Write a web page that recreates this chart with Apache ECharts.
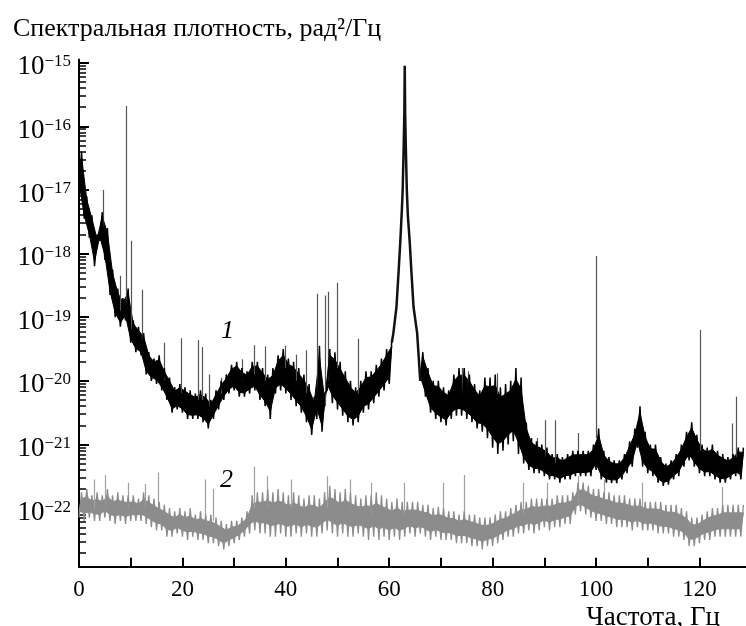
<!DOCTYPE html>
<html>
<head>
<meta charset="utf-8">
<script src="https://cdn.jsdelivr.net/npm/echarts@6/dist/echarts.min.js"></script>
<style>
html, body { margin: 0; padding: 0; background: #fff; }
#chart { width: 746px; height: 626px; }
</style>
</head>
<body>
<div id="chart"></div>
<script>
// сетка частот, Гц (шаг 1 Гц)
var freqs = [];
for (var f = 0; f <= 128; f++) freqs.push(f);

// кривая 1: верхняя и нижняя огибающие шумовой полосы, показатель степени (lg)
var hi1 = [
  -16.4,-17.1,-17.4,-17.7,-17.35,-17.6,-18.25,-18.55,-18.7,-18.55,
  -19.05,-19.15,-19.25,-19.55,-19.65,-19.6,-19.8,-19.95,-20.1,-20.05,
  -20.1,-20.15,-20.2,-20.15,-20.2,-20.3,-20.15,-20.0,-19.9,-19.75,
  -19.7,-19.8,-19.85,-19.7,-19.7,-19.8,-19.9,-19.8,-19.6,-19.5,
  -19.65,-19.7,-19.8,-19.9,-20.05,-20.25,-19.45,-20.2,-19.5,-19.55,
  -19.7,-19.85,-20.0,-20.1,-20.0,-19.85,-19.85,-19.75,-19.65,-19.5,
  -19.35,null,null,null,null,null,-19.55,-19.8,-20.0,-20.0,
  -20.1,-20.15,-19.9,-19.8,-19.8,-19.9,-20.05,-20.15,-19.95,-19.95,
  -19.9,-20.1,-20.05,-20.0,-19.8,-19.95,-20.65,-20.9,-20.95,-21.0,
  -21.05,-21.15,-21.15,-21.2,-21.15,-21.1,-21.1,-21.1,-21.1,-21.0,
  -20.75,-21.1,-21.2,-21.25,-21.25,-21.15,-20.95,-20.75,-20.4,-20.8,
  -21.0,-21.0,-21.2,-21.3,-21.25,-21.15,-21.0,-20.8,-20.65,-20.85,
  -21.0,-21.05,-21.0,-21.1,-21.15,-21.2,-21.15,-21.05,-21.05
];
var lo1 = [
  -16.95,-17.45,-17.75,-18.2,-17.8,-18.1,-18.65,-19.0,-19.15,-19.05,
  -19.4,-19.55,-19.6,-19.9,-20.0,-20.05,-20.15,-20.3,-20.5,-20.45,
  -20.5,-20.6,-20.6,-20.6,-20.65,-20.75,-20.6,-20.45,-20.3,-20.2,
  -20.15,-20.25,-20.25,-20.2,-20.15,-20.3,-20.4,-20.6,-20.2,-20.15,
  -20.2,-20.3,-20.4,-20.5,-20.65,-20.85,-20.6,-20.8,-20.15,-20.35,
  -20.45,-20.55,-20.65,-20.7,-20.65,-20.5,-20.45,-20.35,-20.25,-20.15,
  -20.05,null,null,null,null,null,-20.0,-20.25,-20.5,-20.6,
  -20.65,-20.7,-20.6,-20.55,-20.55,-20.6,-20.65,-20.75,-20.8,-20.9,
  -21.05,-21.15,-21.1,-21.0,-20.95,-21.15,-21.3,-21.4,-21.45,-21.45,
  -21.5,-21.55,-21.55,-21.6,-21.55,-21.55,-21.5,-21.5,-21.5,-21.5,
  -21.4,-21.55,-21.6,-21.61,-21.61,-21.55,-21.45,-21.35,-21.05,-21.35,
  -21.45,-21.5,-21.6,-21.65,-21.63,-21.55,-21.5,-21.35,-21.25,-21.35,
  -21.45,-21.5,-21.5,-21.55,-21.6,-21.6,-21.55,-21.5,-21.55
];

// резонанс около 63 Гц
var peakF = [60.5, 60.8, 61.4, 61.8, 62.15, 62.45, 62.6, 62.8, 62.92, 63.0, 63.08, 63.2, 63.4, 63.6, 63.95, 64.3, 64.7, 65.4, 66.0];
var peakE = [-19.4, -19.25, -18.84, -18.3, -17.8, -17.3, -17.0, -16.3, -15.8, -15.05, -15.8, -16.3, -17.0, -17.4, -17.8, -18.3, -18.84, -19.25, -20.0];

// узкие линии кривой 1: [частота, вершина, основание]
var spikes1 = [
  [4.7,-17.0,-17.6],[7.9,-18.35,-18.9],[9.1,-15.68,-18.9],[10.1,-17.8,-19.2],[12.3,-18.57,-19.4],
  [16.4,-19.4,-20.0],[19.8,-19.33,-20.2],[23.0,-19.36,-20.3],[23.9,-19.47,-20.3],[25.1,-19.9,-20.4],
  [27.5,-19.95,-20.2],[31.5,-19.66,-20.0],[33.9,-19.44,-19.9],[36.0,-19.46,-20.0],[39.9,-19.45,-19.8],
  [42.0,-19.59,-20.0],[43.9,-19.52,-20.2],[46.0,-18.63,-20.3],[47.6,-18.66,-20.4],[48.2,-18.6,-20.0],
  [49.9,-18.46,-19.8],[54.0,-19.34,-20.2],[74.1,-19.8,-20.2],[75.3,-19.85,-20.2],[80.9,-19.88,-20.2],
  [88.6,-20.9,-21.1],[90.1,-20.62,-21.2],[92.2,-20.62,-21.3],[96.6,-20.82,-21.2],[100.0,-18.04,-20.9],
  [120.2,-19.2,-21.1],[126.3,-20.67,-21.2],[127.1,-20.25,-21.2]
];

// кривая 2
var hi2 = [
  -21.75,-21.7,-21.8,-21.75,-21.8,-21.7,-21.8,-21.75,-21.8,-21.8,
  -21.8,-21.85,-21.75,-21.8,-21.85,-21.9,-21.95,-22.0,-22.05,-22.0,
  -22.05,-22.0,-22.1,-22.05,-22.1,-22.1,-22.15,-22.2,-22.25,-22.2,
  -22.2,-22.15,-22.05,-21.8,-21.75,-21.75,-21.7,-21.75,-21.7,-21.75,
  -21.8,-21.75,-21.8,-21.85,-21.8,-21.8,-21.85,-21.75,-21.65,-21.7,
  -21.75,-21.7,-21.75,-21.8,-21.85,-21.8,-21.8,-21.75,-21.8,-21.85,
  -21.9,-21.85,-21.9,-21.9,-21.9,-21.9,-21.95,-21.95,-22.0,-21.98,
  -22.0,-22.05,-22.05,-22.1,-22.05,-22.1,-22.1,-22.15,-22.15,-22.15,
  -22.1,-22.05,-22.05,-22.0,-21.95,-21.9,-21.9,-21.85,-21.85,-21.85,
  -21.85,-21.85,-21.8,-21.8,-21.8,-21.75,-21.6,-21.6,-21.65,-21.7,
  -21.7,-21.75,-21.75,-21.8,-21.8,-21.8,-21.85,-21.85,-21.85,-21.9,
  -21.9,-21.9,-21.9,-21.95,-21.95,-21.95,-22.0,-22.05,-22.15,-22.15,
  -22.1,-22.05,-22.0,-22.0,-21.95,-21.95,-21.95,-21.95,-21.95
];
var lo2 = [
  -22.15,-22.2,-22.15,-22.2,-22.2,-22.15,-22.2,-22.25,-22.2,-22.25,
  -22.2,-22.2,-22.2,-22.25,-22.3,-22.35,-22.35,-22.45,-22.45,-22.4,
  -22.45,-22.5,-22.45,-22.5,-22.5,-22.55,-22.55,-22.6,-22.65,-22.6,
  -22.55,-22.5,-22.45,-22.4,-22.35,-22.4,-22.4,-22.45,-22.45,-22.4,
  -22.45,-22.45,-22.4,-22.45,-22.4,-22.45,-22.45,-22.4,-22.35,-22.4,
  -22.45,-22.4,-22.45,-22.45,-22.4,-22.45,-22.5,-22.45,-22.5,-22.45,
  -22.5,-22.45,-22.5,-22.45,-22.4,-22.45,-22.4,-22.45,-22.5,-22.45,
  -22.5,-22.5,-22.5,-22.55,-22.55,-22.55,-22.6,-22.6,-22.65,-22.6,
  -22.6,-22.55,-22.5,-22.45,-22.45,-22.4,-22.4,-22.35,-22.4,-22.35,
  -22.3,-22.35,-22.3,-22.3,-22.25,-22.25,-22.1,-22.05,-22.1,-22.15,
  -22.2,-22.2,-22.25,-22.25,-22.3,-22.3,-22.3,-22.35,-22.3,-22.35,
  -22.35,-22.35,-22.4,-22.4,-22.4,-22.45,-22.45,-22.5,-22.6,-22.6,
  -22.55,-22.5,-22.5,-22.45,-22.45,-22.45,-22.45,-22.45,-22.45
];
var spikes2 = [
  [3.0,-21.55,-22.0],[5.1,-21.48,-22.0],[9.5,-21.6,-22.0],[12.9,-21.62,-22.0],[15.4,-21.44,-22.0],
  [24.4,-21.55,-22.2],[26.0,-21.7,-22.2],[33.9,-21.35,-22.0],[36.5,-21.5,-22.0],[41.0,-21.55,-22.0],
  [48.0,-21.5,-22.0],[52.5,-21.55,-22.0],[56.5,-21.6,-22.1],[63.0,-21.6,-22.1],[70.5,-21.6,-22.1],
  [74.6,-21.48,-22.1],[86.0,-21.6,-22.1],[90.5,-21.6,-22.1],[96.6,-21.5,-21.9],[101.5,-21.55,-21.9],
  [109.0,-21.6,-22.0],[124.5,-21.67,-22.1]
];

var xLabels = [0, 20, 40, 60, 80, 100, 120];
var xTicks = [10, 20, 30, 40, 50, 60, 70, 80, 90, 100, 110, 120];
var decades = [-22, -21, -20, -19, -18, -17, -16, -15];

var yMin = 1.2e-23, yMax = 1.12e-15;

function pw(e) { return e == null ? null : Math.pow(10, e); }

// шумовая полоса: зигзаг между нижней и верхней огибающей
function band(hi, lo) {
  var out = [];
  for (var i = 0; i < freqs.length; i++) {
    if (hi[i] == null) { out.push([freqs[i], null]); continue; }
    out.push([freqs[i], pw(lo[i])]);
    out.push([freqs[i] + 0.5, pw(hi[i])]);
  }
  return out;
}
// сплошная середина полосы (зубцы зигзага остаются по краям)
function bandFill(hi, lo, color, inset) {
  return {
    type: 'custom', coordinateSystem: 'cartesian2d', silent: true,
    data: [[0, yMin]],
    renderItem: function (params, api) {
      var parts = [], cur = [];
      for (var i = 0; i <= freqs.length; i++) {
        if (i === freqs.length || hi[i] == null) {
          if (cur.length) parts.push(cur);
          cur = [];
          continue;
        }
        cur.push(i);
      }
      var children = parts.map(function (idx) {
        var top = [], bottom = [];
        idx.forEach(function (j) {
          var d = hi[j] - lo[j];
          top.push(api.coord([freqs[j] + 0.5, pw(hi[j] - d * inset)]));
          bottom.push(api.coord([freqs[j], pw(lo[j] + d * inset)]));
        });
        return {
          type: 'polygon',
          shape: { points: bottom.concat(top.reverse()) },
          style: { fill: color, stroke: color, lineWidth: 1 }
        };
      });
      return { type: 'group', children: children };
    }
  };
}
function spikeLines(list) {
  return list.map(function (s) {
    return { coords: [[s[0], pw(s[2])], [s[0], pw(s[1])]] };
  });
}

var majorVals = decades.map(pw);
var minorVals = [];
for (var d = -24; d <= -15; d++) {
  for (var k = 2; k <= 9; k++) {
    var v = k * Math.pow(10, d);
    if (v > yMin && v < yMax) minorVals.push(v);
  }
}

var serif = '"Liberation Serif", "Times New Roman", serif';

var chart = echarts.init(document.getElementById('chart'));
var option = {
  animation: false,
  title: {
    text: 'Спектральная плотность, рад²/Гц',
    left: 8, top: 11,
    textStyle: { fontFamily: serif, fontSize: 26, fontWeight: 'normal', color: '#000' }
  },
  grid: { left: 79, right: 0, top: 59.5, bottom: 59.3, containLabel: false, outerBoundsMode: 'none' },
  xAxis: {
    type: 'value', min: 0, max: 129,
    name: 'Частота, Гц', nameLocation: 'end', nameGap: -26,
    nameTextStyle: { fontFamily: serif, fontSize: 27, color: '#000', align: 'right', verticalAlign: 'top', padding: [38, 0, 0, 0] },
    axisLine: { onZero: false, lineStyle: { color: '#000', width: 2 } },
    axisTick: { inside: true, length: 9, customValues: xTicks, lineStyle: { color: '#000', width: 2 } },
    axisLabel: { customValues: xLabels, fontFamily: serif, fontSize: 23, color: '#000', margin: 12 },
    splitLine: { show: false }
  },
  yAxis: [{
    type: 'log', logBase: 10, min: yMin, max: yMax, position: 'left',
    axisLine: { lineStyle: { color: '#000', width: 2 } },
    axisTick: { inside: true, length: 10, customValues: majorVals, lineStyle: { color: '#000', width: 2 } },
    axisLabel: {
      customValues: majorVals, margin: 8, padding: [9, 0, 0, 0],
      formatter: function (v) {
        var e = Math.round(Math.log10(v));
        return '{b|10}{s|−' + (-e) + '}';
      },
      rich: {
        b: { fontFamily: serif, fontSize: 27, lineHeight: 28, color: '#000' },
        s: { fontFamily: serif, fontSize: 17, lineHeight: 17, verticalAlign: 'top', color: '#000' }
      }
    },
    splitLine: { show: false }
  }, {
    type: 'log', logBase: 10, min: yMin, max: yMax, position: 'left',
    axisLine: { show: false },
    axisTick: { inside: true, length: 7, customValues: minorVals, lineStyle: { color: '#000', width: 1.5 } },
    axisLabel: { show: false },
    splitLine: { show: false }
  }],
  graphic: [
    { type: 'text', left: 221, top: 318, style: { text: '1', font: 'italic 26px ' + serif, fill: '#000' } },
    { type: 'text', left: 220, top: 467, style: { text: '2', font: 'italic 26px ' + serif, fill: '#000' } }
  ],
  series: [
    bandFill(hi2, lo2, '#8c8c8c', 0.25),
    {
      name: '2', type: 'line', showSymbol: false, connectNulls: false,
      data: band(hi2, lo2),
      lineStyle: { color: '#8c8c8c', width: 1.3 }
    },
    {
      type: 'lines', coordinateSystem: 'cartesian2d', silent: true,
      data: spikeLines(spikes2),
      lineStyle: { color: '#a0a0a0', width: 1.2, opacity: 1 }
    },
    bandFill(hi1, lo1, '#000', 0.15),
    {
      name: '1', type: 'line', showSymbol: false, connectNulls: false,
      data: band(hi1, lo1),
      lineStyle: { color: '#000', width: 1.5 }
    },
    {
      name: '1-peak', type: 'line', showSymbol: false,
      data: peakF.map(function (f, i) { return [f, pw(peakE[i])]; }),
      lineStyle: { color: '#111', width: 2.5 }
    },
    {
      type: 'lines', coordinateSystem: 'cartesian2d', silent: true,
      data: spikeLines(spikes1),
      lineStyle: { color: '#555', width: 1.2, opacity: 1 }
    }
  ]
};
chart.setOption(option);
</script>
</body>
</html>
